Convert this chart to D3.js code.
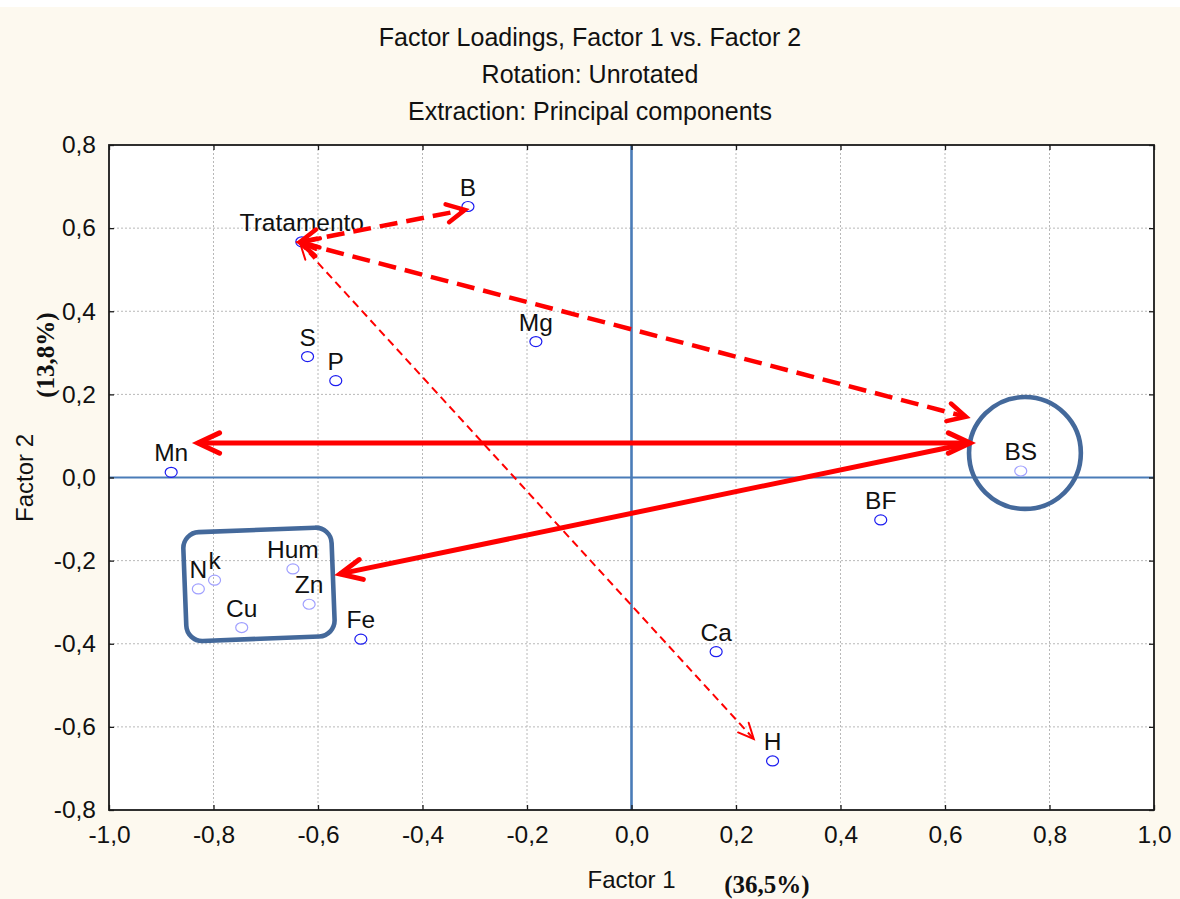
<!DOCTYPE html>
<html>
<head>
<meta charset="utf-8">
<script src="https://cdn.jsdelivr.net/npm/d3@7"></script>
<style>
  html, body { margin: 0; padding: 0; background: #fdf9ef; }
  svg { display: block; }
</style>
</head>
<body>
<script>
// ---------- DATA ----------
const titleLines = ["Factor Loadings, Factor 1 vs. Factor 2", "Rotation: Unrotated", "Extraction: Principal components"];
const xTicks = [-1.0, -0.8, -0.6, -0.4, -0.2, 0.0, 0.2, 0.4, 0.6, 0.8, 1.0];
const yTicks = [-0.8, -0.6, -0.4, -0.2, 0.0, 0.2, 0.4, 0.6, 0.8];
const labels  = ["Tratamento", "B", "Mg", "S", "P", "Mn", "N", "k", "Hum", "Zn", "Cu", "Fe", "Ca", "H", "BS", "BF"];
const factor1 = [-0.631, -0.313, -0.183, -0.620, -0.566, -0.881, -0.829, -0.798, -0.648, -0.617, -0.746, -0.518, 0.162, 0.270, 0.745, 0.477];
const factor2 = [0.567, 0.652, 0.327, 0.291, 0.233, 0.0125, -0.268, -0.247, -0.220, -0.305, -0.361, -0.389, -0.419, -0.682, 0.0156, -0.102];
const faint   = [false, false, false, false, false, false, true, true, true, true, true, false, false, false, true, false];

// arrows: start / end in factor coordinates
const arrowStart = [[0.648, 0.083], [0.648, 0.083], [-0.634, 0.567], [-0.634, 0.565], [-0.634, 0.563]];
const arrowEnd   = [[-0.830, 0.083], [-0.558, -0.232], [-0.319, 0.644], [0.640, 0.146], [0.234, -0.629]];
const arrowKind  = ["solid", "solid", "dash", "dash", "thin"];
const arrowHeads = [[true, true], [false, true], [true, true], [true, true], [true, true]];

// group highlight shapes (factor coordinates)
const boxX = [-0.855, -0.571];
const boxY = [-0.388, -0.126];
const ringCenter = [0.753, 0.059];
const ringRadius = 0.107;

// ---------- LAYOUT ----------
const W = 1180, H = 899;
const plot = { left: 109, right: 1154, top: 145, bottom: 810 };
const fmt = v => d3.format(".1f")(v).replace(".", ",").replace("−", "-");

const svg = d3.select("body").append("svg").attr("width", W).attr("height", H);
svg.append("rect").attr("width", W).attr("height", H).attr("fill", "#fdf9ef");
svg.append("rect").attr("width", W).attr("height", 7).attr("fill", "#ffffff");

const x = d3.scaleLinear().domain([-1, 1]).range([plot.left, plot.right]);
const y = d3.scaleLinear().domain([-0.8, 0.8]).range([plot.bottom, plot.top]);

const font = "'Liberation Sans', Arial, sans-serif";
const serif = "'Liberation Serif', 'Times New Roman', serif";

// titles
svg.selectAll("text.title").data(titleLines).join("text")
  .attr("class", "title")
  .attr("x", 590).attr("y", (d, i) => 46 + i * 37)
  .attr("text-anchor", "middle")
  .attr("font-family", font).attr("font-size", 25).attr("fill", "#111")
  .text(d => d);

// plot area
svg.append("rect").attr("x", plot.left).attr("y", plot.top)
  .attr("width", plot.right - plot.left).attr("height", plot.bottom - plot.top)
  .attr("fill", "#ffffff");

// grid
const grid = svg.append("g");
grid.selectAll("line.gx").data(xTicks.filter(v => Math.abs(v) > 1e-9 && Math.abs(Math.abs(v) - 1) > 1e-9)).join("line")
  .attr("x1", d => x(d)).attr("x2", d => x(d)).attr("y1", plot.top).attr("y2", plot.bottom)
  .attr("stroke", "#b8b8b8").attr("stroke-width", 1).attr("stroke-dasharray", "2,2");
grid.selectAll("line.gy").data(yTicks.filter(v => Math.abs(v) > 1e-9 && Math.abs(Math.abs(v) - 0.8) > 1e-9)).join("line")
  .attr("y1", d => y(d)).attr("y2", d => y(d)).attr("x1", plot.left).attr("x2", plot.right)
  .attr("stroke", "#b8b8b8").attr("stroke-width", 1).attr("stroke-dasharray", "2,2");

// zero lines
svg.append("line").attr("x1", plot.left).attr("x2", plot.right).attr("y1", y(0)).attr("y2", y(0))
  .attr("stroke", "#4a7cb8").attr("stroke-width", 2.2);
svg.append("line").attr("x1", x(0)).attr("x2", x(0)).attr("y1", plot.top).attr("y2", plot.bottom)
  .attr("stroke", "#4a7cb8").attr("stroke-width", 2.6);

// frame
svg.append("rect").attr("x", plot.left).attr("y", plot.top)
  .attr("width", plot.right - plot.left).attr("height", plot.bottom - plot.top)
  .attr("fill", "none").attr("stroke", "#1a1a1a").attr("stroke-width", 1.8);

// axes (ticks inside, labels outside)
const axB = d3.axisBottom(x).tickValues(xTicks).tickSize(-5).tickPadding(16).tickFormat(fmt);
const axL = d3.axisLeft(y).tickValues(yTicks).tickSize(-5).tickPadding(13).tickFormat(fmt);
const axR = d3.axisRight(y).tickValues(yTicks).tickSize(-5).tickFormat("");
const axT = d3.axisTop(x).tickValues(xTicks).tickSize(-5).tickFormat("");

function styleAxis(g) {
  g.select(".domain").remove();
  g.selectAll(".tick line").attr("stroke", "#1a1a1a").attr("stroke-width", 1.3);
  g.selectAll(".tick text").attr("font-family", font).attr("font-size", 24.5).attr("fill", "#111");
}
svg.append("g").attr("transform", `translate(0,${plot.bottom})`).call(axB).call(styleAxis);
svg.append("g").attr("transform", `translate(${plot.left},0)`).call(axL).call(styleAxis);
svg.append("g").attr("transform", `translate(${plot.right},0)`).call(axR).call(styleAxis);
svg.append("g").attr("transform", `translate(0,${plot.top})`).call(axT).call(styleAxis);

// axis titles
svg.append("text").attr("x", (plot.left + plot.right) / 2).attr("y", 888)
  .attr("text-anchor", "middle").attr("font-family", font).attr("font-size", 24).attr("fill", "#111")
  .text("Factor 1");
svg.append("text").attr("x", 767).attr("y", 893)
  .attr("text-anchor", "middle").attr("font-family", serif)
  .attr("font-weight", "bold").attr("font-size", 25).attr("fill", "#111")
  .text("(36,5%)");
svg.append("text").attr("transform", "translate(33,478) rotate(-90)")
  .attr("text-anchor", "middle").attr("font-family", font).attr("font-size", 24).attr("fill", "#111")
  .text("Factor 2");
svg.append("text").attr("transform", "translate(54,355) rotate(-90)")
  .attr("text-anchor", "middle").attr("font-family", serif)
  .attr("font-weight", "bold").attr("font-size", 25).attr("fill", "#111")
  .text("(13,8%)");

// points
const pts = labels.map((l, i) => ({ label: l, f1: factor1[i], f2: factor2[i], faint: faint[i] }));
svg.append("g").selectAll("ellipse").data(pts).join("ellipse")
  .attr("cx", d => x(d.f1)).attr("cy", d => y(d.f2)).attr("rx", 6).attr("ry", 5)
  .attr("fill", "none")
  .attr("stroke", d => d.faint ? "#a0a0ff" : "#1c1cf0").attr("stroke-width", 1.2);
svg.append("g").selectAll("text").data(pts).join("text")
  .attr("x", d => x(d.f1)).attr("y", d => y(d.f2) - 11)
  .attr("text-anchor", "middle").attr("font-family", font).attr("font-size", 24.5).attr("fill", "#111")
  .text(d => d.label);

// highlight shapes
const bx0 = x(boxX[0]), bx1 = x(boxX[1]), by0 = y(boxY[1]), by1 = y(boxY[0]);
const bcx = (bx0 + bx1) / 2, bcy = (by0 + by1) / 2;
svg.append("rect").attr("x", bx0).attr("y", by0).attr("width", bx1 - bx0).attr("height", by1 - by0)
  .attr("rx", 16).attr("ry", 16)
  .attr("transform", `rotate(-2.2,${bcx},${bcy})`)
  .attr("fill", "none").attr("stroke", "#44699b").attr("stroke-width", 4.6);
svg.append("circle").attr("cx", x(ringCenter[0])).attr("cy", y(ringCenter[1]))
  .attr("r", x(ringCenter[0] + ringRadius) - x(ringCenter[0]))
  .attr("fill", "none").attr("stroke", "#44699b").attr("stroke-width", 4.6);

// arrows
const styles = {
  solid: { w: 5, dash: null, head: 24, ang: 25 },
  dash:  { w: 4.5, dash: "18,9", head: 20, ang: 27 },
  thin:  { w: 2, dash: "8,5", head: 17, ang: 25 }
};
const ag = svg.append("g");
arrowStart.forEach((s, i) => {
  const e = arrowEnd[i];
  const st = styles[arrowKind[i]];
  const x1 = x(s[0]), y1 = y(s[1]), x2 = x(e[0]), y2 = y(e[1]);
  ag.append("line").attr("x1", x1).attr("y1", y1).attr("x2", x2).attr("y2", y2)
    .attr("stroke", "#ff0000").attr("stroke-width", st.w)
    .attr("stroke-dasharray", st.dash);
  const heads = arrowHeads[i];
  const drawHead = (tx, ty, fx, fy) => {
    const a = Math.atan2(fy - ty, fx - tx);
    const da = st.ang * Math.PI / 180;
    const p1 = [tx + st.head * Math.cos(a + da), ty + st.head * Math.sin(a + da)];
    const p2 = [tx + st.head * Math.cos(a - da), ty + st.head * Math.sin(a - da)];
    ag.append("path").attr("d", d3.line()([p1, [tx, ty], p2]))
      .attr("fill", "none").attr("stroke", "#ff0000")
      .attr("stroke-width", st.w).attr("stroke-linejoin", "miter").attr("stroke-linecap", "round");
  };
  if (heads[0]) drawHead(x1, y1, x2, y2);
  if (heads[1]) drawHead(x2, y2, x1, y1);
});
</script>
</body>
</html>
